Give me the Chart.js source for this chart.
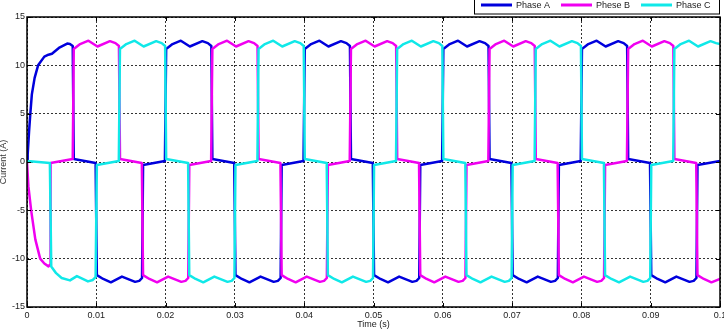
<!DOCTYPE html>
<html>
<head>
<meta charset="utf-8">
<title>Phase currents</title>
<script src="https://cdn.jsdelivr.net/npm/chart.js"></script>
<style>
  body { margin: 0; background: #fff; }
  #wrap { width: 724px; height: 330px; }
</style>
</head>
<body>
<div id="wrap"><canvas id="chart" width="724" height="330"></canvas></div>
<script>
// time (s) and current (A), one pair of arrays per phase
const timeA = [
  0, 0.0001, 0.0003, 0.00048, 0.0007, 0.0011, 0.0016, 0.0025, 0.0031, 0.0036, 0.0046, 0.0058, 0.0062, 0.0066,
  0.00675, 0.0099,
  0.01008, 0.011, 0.0121, 0.0137, 0.0156, 0.0162, 0.0166,
  0.01675, 0.0199,
  0.02008, 0.021, 0.0222, 0.0235, 0.0253, 0.0261, 0.0266,
  0.02675, 0.0299,
  0.03008, 0.031, 0.0321, 0.0337, 0.0356, 0.0362, 0.0366,
  0.03675, 0.0399,
  0.04008, 0.041, 0.0422, 0.0435, 0.0453, 0.0461, 0.0466,
  0.04675, 0.0499,
  0.05008, 0.051, 0.0521, 0.0537, 0.0556, 0.0562, 0.0566,
  0.05675, 0.0599,
  0.06008, 0.061, 0.0622, 0.0635, 0.0653, 0.0661, 0.0666,
  0.06675, 0.0699,
  0.07008, 0.071, 0.0721, 0.0737, 0.0756, 0.0762, 0.0766,
  0.07675, 0.0799,
  0.08008, 0.081, 0.0822, 0.0835, 0.0853, 0.0861, 0.0866,
  0.08675, 0.0899,
  0.09008, 0.091, 0.0921, 0.0937, 0.0956, 0.0962, 0.0966,
  0.09675, 0.1
];
const currentA = [
  0, 0.8, 3.2, 5.0, 7.0, 8.7, 10.0, 10.9, 11.1, 11.2, 11.8, 12.25, 12.2, 12.0,
  0.3, -0.1,
  -11.7, -12.1, -12.45, -11.85, -12.4, -12.3, -12.0,
  -0.3, 0.1,
  11.7, 12.2, 12.55, 11.95, 12.5, 12.3, 12.0,
  0.3, -0.1,
  -11.7, -12.1, -12.45, -11.85, -12.4, -12.3, -12.0,
  -0.3, 0.1,
  11.7, 12.2, 12.55, 11.95, 12.5, 12.3, 12.0,
  0.3, -0.1,
  -11.7, -12.1, -12.45, -11.85, -12.4, -12.3, -12.0,
  -0.3, 0.1,
  11.7, 12.2, 12.55, 11.95, 12.5, 12.3, 12.0,
  0.3, -0.1,
  -11.7, -12.1, -12.45, -11.85, -12.4, -12.3, -12.0,
  -0.3, 0.1,
  11.7, 12.2, 12.55, 11.95, 12.5, 12.3, 12.0,
  0.3, -0.1,
  -11.7, -12.1, -12.45, -11.85, -12.4, -12.3, -12.0,
  -0.3, 0.1
];

const timeB = [
  0, 0.0002, 0.0006, 0.0012, 0.0019, 0.0025, 0.0031, 0.00335,
  0.0034, 0.0066,
  0.006747, 0.007667, 0.008867, 0.010167, 0.011967, 0.012767, 0.013267,
  0.01342, 0.01657,
  0.016747, 0.017667, 0.018767, 0.020367, 0.022267, 0.022867, 0.023267,
  0.02342, 0.02657,
  0.026747, 0.027667, 0.028867, 0.030167, 0.031967, 0.032767, 0.033267,
  0.03342, 0.03657,
  0.036747, 0.037667, 0.038767, 0.040367, 0.042267, 0.042867, 0.043267,
  0.04342, 0.04657,
  0.046747, 0.047667, 0.048867, 0.050167, 0.051967, 0.052767, 0.053267,
  0.05342, 0.05657,
  0.056747, 0.057667, 0.058767, 0.060367, 0.062267, 0.062867, 0.063267,
  0.06342, 0.06657,
  0.066747, 0.067667, 0.068867, 0.070167, 0.071967, 0.072767, 0.073267,
  0.07342, 0.07657,
  0.076747, 0.077667, 0.078767, 0.080367, 0.082267, 0.082867, 0.083267,
  0.08342, 0.08657,
  0.086747, 0.087667, 0.088867, 0.090167, 0.091967, 0.092767, 0.093267,
  0.09342, 0.09657,
  0.096747, 0.097667, 0.098767, 0.1
];
const currentB = [
  0, -2.5, -5.0, -8.0, -10.0, -10.5, -10.8, -10.6,
  -0.1, 0.3,
  11.7, 12.2, 12.55, 11.95, 12.5, 12.3, 12.0,
  0.3, -0.1,
  -11.7, -12.1, -12.45, -11.85, -12.4, -12.3, -12.0,
  -0.3, 0.1,
  11.7, 12.2, 12.55, 11.95, 12.5, 12.3, 12.0,
  0.3, -0.1,
  -11.7, -12.1, -12.45, -11.85, -12.4, -12.3, -12.0,
  -0.3, 0.1,
  11.7, 12.2, 12.55, 11.95, 12.5, 12.3, 12.0,
  0.3, -0.1,
  -11.7, -12.1, -12.45, -11.85, -12.4, -12.3, -12.0,
  -0.3, 0.1,
  11.7, 12.2, 12.55, 11.95, 12.5, 12.3, 12.0,
  0.3, -0.1,
  -11.7, -12.1, -12.45, -11.85, -12.4, -12.3, -12.0,
  -0.3, 0.1,
  11.7, 12.2, 12.55, 11.95, 12.5, 12.3, 12.0,
  0.3, -0.1,
  -11.7, -12.1, -12.45, -12.1
];

const timeC = [
  0, 0.0033,
  0.0035, 0.0042, 0.005, 0.0062, 0.0072, 0.0088, 0.0095, 0.0099,
  0.01008, 0.01325,
  0.013413, 0.014333, 0.015533, 0.016833, 0.018633, 0.019433, 0.019933,
  0.02008, 0.02325,
  0.023413, 0.024333, 0.025433, 0.027033, 0.028933, 0.029533, 0.029933,
  0.03008, 0.03325,
  0.033413, 0.034333, 0.035533, 0.036833, 0.038633, 0.039433, 0.039933,
  0.04008, 0.04325,
  0.043413, 0.044333, 0.045433, 0.047033, 0.048933, 0.049533, 0.049933,
  0.05008, 0.05325,
  0.053413, 0.054333, 0.055533, 0.056833, 0.058633, 0.059433, 0.059933,
  0.06008, 0.06325,
  0.063413, 0.064333, 0.065433, 0.067033, 0.068933, 0.069533, 0.069933,
  0.07008, 0.07325,
  0.073413, 0.074333, 0.075533, 0.076833, 0.078633, 0.079433, 0.079933,
  0.08008, 0.08325,
  0.083413, 0.084333, 0.085433, 0.087033, 0.088933, 0.089533, 0.089933,
  0.09008, 0.09325,
  0.093413, 0.094333, 0.095533, 0.096833, 0.098633, 0.099433, 0.1
];
const currentC = [
  0.1, -0.1,
  -10.8, -11.5, -12.0, -12.25, -11.8, -12.35, -12.2, -11.9,
  -0.3, 0.1,
  11.7, 12.2, 12.55, 11.95, 12.5, 12.3, 12.0,
  0.3, -0.1,
  -11.7, -12.1, -12.45, -11.85, -12.4, -12.3, -12.0,
  -0.3, 0.1,
  11.7, 12.2, 12.55, 11.95, 12.5, 12.3, 12.0,
  0.3, -0.1,
  -11.7, -12.1, -12.45, -11.85, -12.4, -12.3, -12.0,
  -0.3, 0.1,
  11.7, 12.2, 12.55, 11.95, 12.5, 12.3, 12.0,
  0.3, -0.1,
  -11.7, -12.1, -12.45, -11.85, -12.4, -12.3, -12.0,
  -0.3, 0.1,
  11.7, 12.2, 12.55, 11.95, 12.5, 12.3, 12.0,
  0.3, -0.1,
  -11.7, -12.1, -12.45, -11.85, -12.4, -12.3, -12.0,
  -0.3, 0.1,
  11.7, 12.2, 12.55, 11.95, 12.5, 12.3, 12.2
];

const seriesNames = ['Phase A', 'Phese B', 'Phase C'];
const seriesColors = ['#0000dc', '#f000f0', '#10e8e8'];
const xTickLabels = ['0', '0.01', '0.02', '0.03', '0.04', '0.05', '0.06', '0.07', '0.08', '0.09', '0.1'];
const yTickLabels = ['-15', '-10', '-5', '0', '5', '10', '15'];

const toPoints = (t, v) => t.map((x, i) => ({ x, y: v[i] }));

Chart.defaults.font.family = '"Liberation Sans", Arial, sans-serif';
Chart.defaults.font.size = 9;
Chart.defaults.color = '#222';

// box round the plot area + small inward ticks, like the matlab axes
const frame = {
  id: 'frame',
  afterDatasetsDraw(chart) {
    const { ctx, chartArea: a, scales: { x, y } } = chart;
    ctx.save();
    ctx.strokeStyle = '#000';
    ctx.lineWidth = 1;
    ctx.beginPath();
    x.ticks.forEach(t => {
      const px = Math.round(x.getPixelForValue(t.value)) + 0.5;
      ctx.moveTo(px, a.bottom); ctx.lineTo(px, a.bottom - 4);
      ctx.moveTo(px, a.top); ctx.lineTo(px, a.top + 4);
    });
    y.ticks.forEach(t => {
      const py = Math.round(y.getPixelForValue(t.value)) + 0.5;
      ctx.moveTo(a.left, py); ctx.lineTo(a.left + 4, py);
      ctx.moveTo(a.right, py); ctx.lineTo(a.right - 4, py);
    });
    ctx.stroke();
    ctx.lineWidth = 1.5;
    ctx.strokeRect(a.left, a.top, a.right - a.left, a.bottom - a.top);
    ctx.restore();
  }
};

// boxed legend in the top right corner
const legendBox = {
  id: 'legendBox',
  afterDraw(chart) {
    const ctx = chart.ctx;
    ctx.save();
    ctx.fillStyle = '#fff';
    ctx.fillRect(474.5, -1, 245, 15);
    ctx.strokeStyle = '#000';
    ctx.lineWidth = 1;
    ctx.strokeRect(474.5, -1, 245, 15);
    ctx.font = '9px "Liberation Sans", Arial, sans-serif';
    ctx.textBaseline = 'middle';
    chart.data.datasets.forEach((ds, i) => {
      const x0 = 481 + i * 80;
      ctx.strokeStyle = ds.borderColor;
      ctx.lineWidth = 3;
      ctx.beginPath();
      ctx.moveTo(x0, 5);
      ctx.lineTo(x0 + 31, 5);
      ctx.stroke();
      ctx.fillStyle = '#222';
      ctx.fillText(ds.label, x0 + 35, 5.5);
    });
    ctx.restore();
  }
};

new Chart(document.getElementById('chart'), {
  type: 'line',
  data: {
    datasets: [
      { label: seriesNames[0], data: toPoints(timeA, currentA), borderColor: seriesColors[0], order: 3 },
      { label: seriesNames[1], data: toPoints(timeB, currentB), borderColor: seriesColors[1], order: 2 },
      { label: seriesNames[2], data: toPoints(timeC, currentC), borderColor: seriesColors[2], order: 1 }
    ]
  },
  options: {
    responsive: false,
    animation: false,
    devicePixelRatio: 1,
    layout: { padding: { top: 17, right: 4, left: 0, bottom: 0 } },
    elements: {
      line: { borderWidth: 2.5, tension: 0, fill: false, borderJoinStyle: 'round' },
      point: { radius: 0, hoverRadius: 0 }
    },
    plugins: { legend: { display: false }, tooltip: { enabled: false } },
    scales: {
      x: {
        type: 'linear',
        min: 0,
        max: 0.1,
        ticks: {
          stepSize: 0.01,
          autoSkip: false,
          maxRotation: 0,
          padding: 3,
          callback: (v, i) => xTickLabels[i]
        },
        grid: { color: '#333', lineWidth: 1, drawTicks: false },
        border: { display: false, dash: [2, 2] },
        title: { display: true, text: 'Time (s)', padding: 0, color: '#222' },
        afterFit: s => { s.height = 23; s.paddingLeft = 0; s.paddingRight = 0; }
      },
      y: {
        min: -15,
        max: 15,
        ticks: {
          stepSize: 5,
          padding: 2,
          callback: (v, i) => yTickLabels[i]
        },
        grid: { color: '#333', lineWidth: 1, drawTicks: false },
        border: { display: false, dash: [2, 2] },
        title: { display: true, text: 'Current (A)', padding: { top: -2, bottom: 0 }, color: '#333' },
        afterFit: s => { s.width = 27; s.paddingTop = 0; s.paddingBottom = 0; }
      }
    }
  },
  plugins: [frame, legendBox]
});
</script>
</body>
</html>
